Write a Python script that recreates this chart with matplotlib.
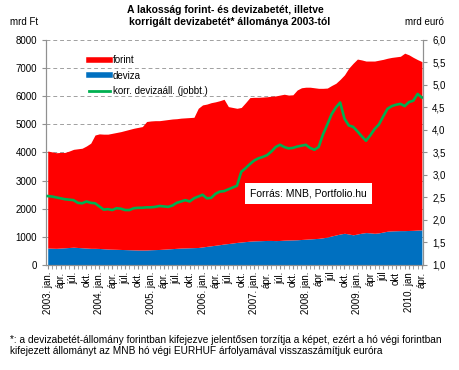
import numpy as np
import matplotlib
matplotlib.use("Agg")
import matplotlib.pyplot as plt
from matplotlib.ticker import FuncFormatter, MultipleLocator
from matplotlib.lines import Line2D

plt.rcParams['font.family'] = ['Liberation Sans', 'DejaVu Sans']

# havi adatok 2003. jan - 2010. ápr. (88 hónap)
osszes = [4050, 4020, 3990, 4000, 4000, 4050, 4110, 4130, 4150, 4230, 4330, 4620,
          4660, 4650, 4650, 4680, 4710, 4740, 4780, 4820, 4860, 4890, 4920, 5100,
          5120, 5130, 5130, 5150, 5170, 5190, 5200, 5220, 5230, 5240, 5250, 5570,
          5690, 5720, 5770, 5800, 5840, 5890, 5630, 5600, 5570, 5600, 5770, 5950,
          5960, 5960, 5970, 5980, 6000, 6010, 6040, 6070, 6040, 6050, 6220, 6300,
          6320, 6320, 6300, 6280, 6280, 6290, 6380, 6460, 6600, 6760, 7000, 7170,
          7320, 7290, 7250, 7250, 7250, 7280, 7310, 7350, 7380, 7400, 7420, 7530,
          7470, 7380, 7300, 7230]
deviza = [600, 595, 590, 600, 610, 620, 630, 620, 610, 600, 590, 590,
          585, 575, 565, 560, 555, 550, 545, 540, 535, 530, 530, 530,
          540, 545, 550, 560, 570, 580, 590, 600, 605, 610, 615, 620,
          640, 660, 680, 700, 720, 745, 760, 780, 800, 815, 830, 845,
          855, 860, 865, 870, 870, 865, 870, 880, 885, 890, 895, 905,
          915, 925, 935, 945, 965, 990, 1030, 1065, 1100, 1125, 1100, 1070,
          1100, 1130, 1150, 1140, 1125, 1140, 1170, 1200, 1210, 1215, 1220, 1220,
          1225, 1230, 1240, 1245]
korr = [2.53, 2.52, 2.50, 2.48, 2.46, 2.45, 2.44, 2.38, 2.37, 2.41, 2.38, 2.37,
        2.30, 2.23, 2.24, 2.22, 2.26, 2.25, 2.22, 2.22, 2.26, 2.27, 2.27, 2.28,
        2.28, 2.29, 2.31, 2.30, 2.29, 2.32, 2.38, 2.41, 2.44, 2.41, 2.48, 2.52,
        2.56, 2.48, 2.49, 2.58, 2.63, 2.64, 2.68, 2.72, 2.76, 3.07, 3.15, 3.24,
        3.32, 3.37, 3.40, 3.44, 3.52, 3.62, 3.67, 3.62, 3.59, 3.60, 3.63, 3.65,
        3.67, 3.60, 3.56, 3.62, 3.90, 4.12, 4.35, 4.50, 4.61, 4.25, 4.10, 4.07,
        3.97, 3.86, 3.76, 3.88, 4.02, 4.12, 4.30, 4.47, 4.53, 4.56, 4.58, 4.53,
        4.62, 4.65, 4.80, 4.72]
tick_labels = ['2003. jan.', 'ápr.', 'júl.', 'okt.',
               '2004. jan.', 'ápr.', 'júl.', 'okt.',
               '2005. jan.', 'ápr.', 'júl.', 'okt.',
               '2006. jan.', 'ápr.', 'júl.', 'okt.',
               '2007. jan.', 'ápr.', 'júl.', 'okt.',
               '2008. jan.', 'ápr', 'júl', 'okt.',
               '2009. jan.', 'ápr', 'júl', 'okt',
               '2010. jan', 'ápr.']

x = np.arange(len(osszes))

fig = plt.figure(figsize=(4.6, 3.7), dpi=100)
ax = fig.add_axes([0.1, 0.284, 0.82, 0.608])

ax.fill_between(x, 0, deviza, color='#0070C0', lw=0, zorder=2)
ax.fill_between(x, deviza, osszes, color='#FF0000', lw=0, zorder=2)
ax.set_xlim(-0.4, 87.3)
ax.set_ylim(0, 8000)
ax.yaxis.set_major_locator(MultipleLocator(1000))
ax.grid(axis='y', ls=(0, (4, 3)), color='#A0A0A0', lw=0.7, zorder=0)
ax.set_axisbelow(True)

ax.spines['top'].set_visible(False)
for s in ['left', 'right', 'bottom']:
    ax.spines[s].set_color('#909090')

ax.set_xticks(x[::3])
ax.set_xticklabels(tick_labels, rotation=90, fontsize=7)
ax.set_xticks(x, minor=True)
ax.tick_params(axis='x', which='both', length=3, color='#909090', pad=2)
ax.tick_params(axis='y', labelsize=7, length=3, color='#909090')

ax2 = ax.twinx()
ax2.plot(x, korr, color='#00B050', lw=1.9, zorder=3)
ax2.set_ylim(1.0, 6.0)
ax2.yaxis.set_major_locator(MultipleLocator(0.5))
ax2.yaxis.set_major_formatter(FuncFormatter(lambda v, p: f'{v:.1f}'.replace('.', ',')))
ax2.tick_params(axis='y', labelsize=7, length=3, color='#909090')
ax2.spines['top'].set_visible(False)
for s in ['left', 'right', 'bottom']:
    ax2.spines[s].set_color('#909090')

handles = [Line2D([], [], color='#FF0000', lw=4),
           Line2D([], [], color='#0070C0', lw=4),
           Line2D([], [], color='#00B050', lw=2)]
ax2.legend(handles, ['forint', 'deviza', 'korr. devizaáll. (jobbt.)'],
           loc='upper left', bbox_to_anchor=(0.09, 0.97), frameon=False,
           fontsize=7, handlelength=2.2, handletextpad=0.25, labelspacing=0.55)

ax2.text(0.541, 0.316, 'Forrás: MNB, Portfolio.hu', transform=ax.transAxes, fontsize=7.5,
         va='center', bbox=dict(facecolor='white', edgecolor='none', pad=4), zorder=5)

fig.text(0.49, 0.972, 'A lakosság forint- és devizabetét, illetve', ha='center', va='center',
         fontsize=7.5, fontweight='bold')
fig.text(0.50, 0.94, 'korrigált devizabetét* állománya 2003-tól', ha='center', va='center',
         fontsize=7.5, fontweight='bold')
fig.text(0.022, 0.94, 'mrd Ft', fontsize=7, va='center')
fig.text(0.88, 0.94, 'mrd euró', fontsize=7, va='center')

fig.text(0.022, 0.066, '*: a devizabetét-állomány forintban kifejezve jelentősen torzítja a képet, '
         'ezért a hó végi forintban\nkifejezett állományt az MNB hó végi EURHUF árfolyamával '
         'visszaszámítjuk euróra', fontsize=7.3, va='center', linespacing=1.05)

fig.savefig('out.png', dpi=100)
